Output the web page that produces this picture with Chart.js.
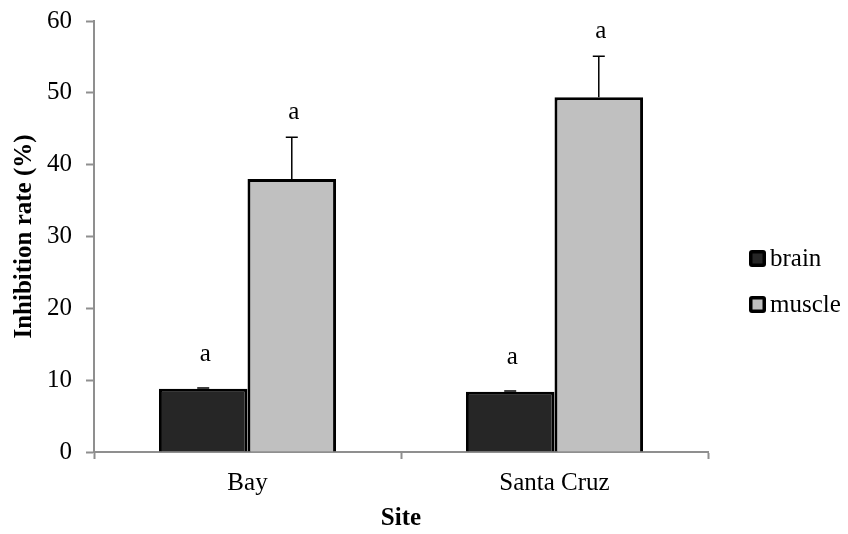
<!DOCTYPE html>
<html>
<head>
<meta charset="utf-8">
<script src="https://cdn.jsdelivr.net/npm/chart.js@4.4.1/dist/chart.umd.min.js"></script>
<style>
  body { margin: 0; background: #fff; }
  #wrap { width: 848px; height: 534px; }
</style>
</head>
<body>
<div id="wrap"><canvas id="myChart" width="848" height="534"></canvas></div>
<script>
// data
const sites = ["Bay", "Santa Cruz"];
const brain = [8.8, 8.4];
const muscle = [38.0, 49.4];
const brainErr = [0.1, 0.1];
const muscleErr = [5.8, 5.7];
const brainLetters = ["a", "a"];
const muscleLetters = ["a", "a"];
const yTicks = [0, 10, 20, 30, 40, 50, 60];

const serif = "'Liberation Serif', 'Times New Roman', serif";
const axisGray = "#8f8f8f";

// error bars (upper only) plus the letters above
const errorBars = {
    id: "errorBars",
    afterDatasetsDraw(chart) {
        const ctx = chart.ctx;
        const yScale = chart.scales.y;
        const errs = [brainErr, muscleErr];
        const letters = [brainLetters, muscleLetters];
        const letterGap = [27, 18];
        ctx.save();
        chart.data.datasets.forEach((ds, di) => {
            const meta = chart.getDatasetMeta(di);
            meta.data.forEach((bar, i) => {
                const v = ds.data[i];
                const top = yScale.getPixelForValue(v + errs[di][i]);
                const base = yScale.getPixelForValue(v);
                ctx.strokeStyle = "#000";
                ctx.lineWidth = 1.5;
                ctx.beginPath();
                ctx.moveTo(bar.x, base);
                ctx.lineTo(bar.x, top);
                ctx.moveTo(bar.x - 6, top);
                ctx.lineTo(bar.x + 6, top);
                ctx.stroke();
                ctx.fillStyle = "#000";
                ctx.font = "25px " + serif;
                ctx.textAlign = "center";
                ctx.textBaseline = "alphabetic";
                ctx.fillText(letters[di][i], bar.x + 2, top - letterGap[di]);
            });
        });
        ctx.restore();
    }
};

// legend drawn to the right of the plot, Excel style
const sideLegend = {
    id: "sideLegend",
    afterDraw(chart) {
        const ctx = chart.ctx;
        const area = chart.chartArea;
        const x0 = area.right + 41;
        const rows = [258, 304];
        ctx.save();
        chart.data.datasets.forEach((ds, i) => {
            const cy = rows[i];
            ctx.fillStyle = "#000";
            ctx.beginPath();
            ctx.roundRect(x0, cy - 8, 17, 17, 3);
            ctx.fill();
            ctx.fillStyle = ds.backgroundColor;
            ctx.fillRect(x0 + 3.5, cy - 4.5, 10, 10);
            ctx.fillStyle = "#000";
            ctx.font = "25px " + serif;
            ctx.textAlign = "left";
            ctx.textBaseline = "middle";
            ctx.fillText(ds.label, x0 + 21, cy + 1);
        });
        ctx.restore();
    }
};

const ctx = document.getElementById("myChart").getContext("2d");
const chart = new Chart(ctx, {
    type: "bar",
    data: {
        labels: sites,
        datasets: [
            {
                label: "brain",
                data: brain,
                backgroundColor: "#262626",
                borderColor: "#000",
                borderWidth: 3,
                barPercentage: 1.0,
                categoryPercentage: 0.577
            },
            {
                label: "muscle",
                data: muscle,
                backgroundColor: "#c0c0c0",
                borderColor: "#000",
                borderWidth: 3,
                barPercentage: 1.0,
                categoryPercentage: 0.577
            }
        ]
    },
    options: {
        responsive: false,
        animation: false,
        layout: { padding: { top: 0, right: 140, left: 10, bottom: 0 } },
        plugins: {
            legend: { display: false },
            tooltip: { enabled: false }
        },
        scales: {
            x: {
                grid: {
                    drawOnChartArea: false,
                    drawTicks: true,
                    tickLength: 7,
                    tickWidth: 2,
                    color: axisGray,
                    offset: true
                },
                border: { color: axisGray, width: 2 },
                ticks: { font: { family: serif, size: 25 }, color: "#000", padding: 9 },
                title: {
                    display: true,
                    text: "Site",
                    font: { family: serif, size: 25, weight: "bold" },
                    color: "#000",
                    padding: { top: -3, bottom: 0 }
                }
            },
            y: {
                min: 0,
                max: 60,
                afterBuildTicks(axis) { axis.ticks = yTicks.map(v => ({ value: v })); },
                afterFit(axis) { axis.paddingTop = 21; },
                grid: {
                    drawOnChartArea: false,
                    drawTicks: true,
                    tickLength: 8,
                    tickWidth: 2,
                    color: axisGray
                },
                border: { color: axisGray, width: 2 },
                ticks: { font: { family: serif, size: 25 }, color: "#000", padding: 14 },
                title: {
                    display: true,
                    text: "Inhibition rate (%)",
                    font: { family: serif, size: 25, weight: "bold" },
                    color: "#000",
                    padding: { top: 0, bottom: -7 }
                }
            }
        }
    },
    plugins: [errorBars, sideLegend]
});
</script>
</body>
</html>
